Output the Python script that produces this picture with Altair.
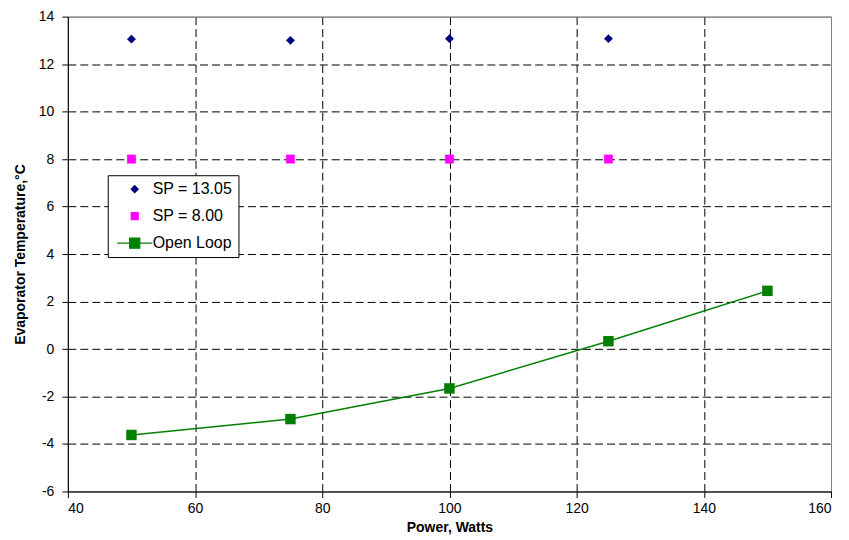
import altair as alt
import pandas as pd

# ---- data ----
series_names = ["SP = 13.05", "SP = 8.00", "Open Loop"]
series_colors = ["#000080", "#FF00FF", "#008000"]

power_sp = [50, 75, 100, 125]
temp_sp13 = [13.05, 13.0, 13.07, 13.07]
temp_sp8 = [8.0, 8.0, 8.0, 8.0]

power_ol = [50, 75, 100, 125, 150]
temp_ol = [-3.62, -2.95, -1.66, 0.33, 2.45]

x_ticks = [40, 60, 80, 100, 120, 140, 160]
y_ticks = [-6, -4, -2, 0, 2, 4, 6, 8, 10, 12, 14]

sp_df = pd.DataFrame({
    "power": power_sp + power_sp,
    "temp": temp_sp13 + temp_sp8,
    "series": [series_names[0]] * len(power_sp) + [series_names[1]] * len(power_sp),
})
ol_df = pd.DataFrame({"power": power_ol, "temp": temp_ol, "series": series_names[2]})

FONT = "Liberation Sans"

x_enc = alt.X(
    "power:Q",
    scale=alt.Scale(domain=[40, 160], nice=False, zero=False),
    axis=alt.Axis(
        values=x_ticks, title="Power, Watts", labelExpr="'' + datum.value",
        grid=True,
        gridColor={"condition": {"test": "datum.value == 160 || datum.value == 40", "value": "#808080"}, "value": "#000000"},
        gridDash={"condition": {"test": "datum.value == 160 || datum.value == 40", "value": []}, "value": [8, 4]},
        gridWidth=1,
    ),
)
y_enc = alt.Y(
    "temp:Q",
    scale=alt.Scale(domain=[-6, 14], nice=False, zero=False),
    axis=alt.Axis(
        values=y_ticks, title="Evaporator Temperature,°C", labelExpr="'' + datum.value",
        grid=True,
        gridColor={"condition": {"test": "datum.value == 14 || datum.value == -6", "value": "#808080"}, "value": "#000000"},
        gridDash={"condition": {"test": "datum.value == 14 || datum.value == -6", "value": []}, "value": [8, 4]},
        gridWidth=1,
    ),
)

legend_path = "M-5,0H5M-1.45,-1.45H1.45V1.45H-1.45Z"
color_scale = alt.Scale(domain=series_names, range=series_colors)
shape_scale = alt.Scale(domain=series_names, range=["diamond", "square", legend_path])

legend = alt.Legend(
    title=None, orient="none", legendX=40, legendY=159,
    strokeColor="#000000", fillColor="#FFFFFF", padding=6,
    labelFont=FONT, labelFontSize=16, labelColor="#000000",
    symbolSize=49, symbolOffset=13, labelOffset=10, rowPadding=11,
    symbolStrokeWidth=1.2,
)

sp_points = alt.Chart(sp_df).mark_point(filled=True, opacity=1, size=70, strokeWidth=0.5).encode(
    x=x_enc, y=y_enc,
    fill=alt.Fill("series:N", scale=color_scale, legend=legend),
    stroke=alt.Stroke("series:N", scale=color_scale, legend=legend),
    shape=alt.Shape("series:N", scale=shape_scale, legend=legend),
)

ol_line = alt.Chart(ol_df).mark_line(color="#008000", strokeWidth=1.5).encode(x=x_enc, y=y_enc)
ol_points = alt.Chart(ol_df).mark_point(
    filled=True, opacity=1, shape="square", size=110, color="#008000"
).encode(x=x_enc, y=y_enc)

chart = alt.layer(ol_line, sp_points, ol_points).properties(
    width=765, height=476,
    padding={"left": 5, "top": 1, "right": 9, "bottom": 3},
).configure_view(
    stroke="#808080", strokeWidth=1,
).configure_axis(
    labelFont=FONT, labelFontSize=14, labelColor="#000000",
    titleFont=FONT, titleFontSize=14, titleFontWeight="bold", titleColor="#000000",
    domainColor="#000000", domainWidth=1, tickColor="#000000", tickSize=6,
    labelPadding=5,
).configure_axisY(
    titlePadding=11, labelPadding=8,
).configure_axisX(
    titlePadding=5, labelPadding=4,
)

chart.save("out.html", embed_options={"renderer": "svg", "actions": False})
